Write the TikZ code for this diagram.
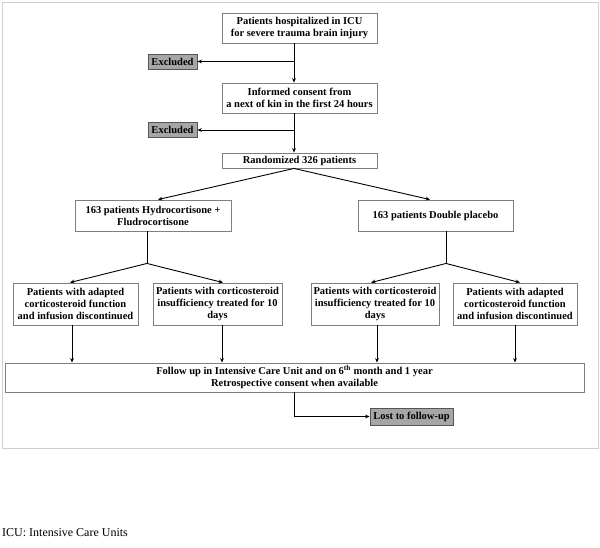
\documentclass[tikz,border=0pt]{standalone}
\usepackage{fontspec}
\setmainfont{Liberation Serif}
\usetikzlibrary{arrows.meta}
\definecolor{boxline}{HTML}{7F7F7F}
\definecolor{exfill}{HTML}{A6A6A6}
\definecolor{exline}{HTML}{555555}
\definecolor{frameline}{HTML}{CFCFCF}
\begin{document}
\begin{tikzpicture}[x=1pt,y=-1pt,
  boxnode/.style={draw=boxline, line width=0.9pt, fill=white, inner sep=0pt, align=center,
    font=\fontsize{10.5}{12}\selectfont\bfseries},
  exnode/.style={boxnode, draw=exline, fill=exfill},
  arr/.style={line width=0.9pt, -{Stealth[length=4.5pt,width=3.8pt]}},
  ln/.style={line width=0.9pt}]
\useasboundingbox (0,0) rectangle (600,547);
\draw[frameline, line width=1pt] (2,2) rectangle (598,448);

\node[boxnode, minimum width=155pt, minimum height=30pt] (b1) at (299.5,28) {Patients hospitalized in ICU\\for severe trauma brain injury};
\node[boxnode, minimum width=155pt, minimum height=30pt] (b2) at (299.5,98) {Informed consent from\\a next of kin in the first 24 hours};
\node[boxnode, minimum width=155pt, minimum height=15pt] (b3) at (299.5,160.5) {Randomized 326 patients};
\node[exnode, minimum width=49pt, minimum height=15pt] (ex1) at (172.5,61.5) {Excluded};
\node[exnode, minimum width=49pt, minimum height=15pt] (ex2) at (172.5,130) {Excluded};

\node[boxnode, minimum width=156pt, minimum height=31pt] (gL) at (153,215.5) {163 patients Hydrocortisone +\\Fludrocortisone};
\node[boxnode, minimum width=155pt, minimum height=31pt] (gR) at (435.5,215.5) {163 patients Double placebo};

\node[boxnode, minimum width=125pt, minimum height=42pt] (A) at (75.5,304) {Patients with adapted\\corticosteroid function\\and infusion discontinued};
\node[boxnode, minimum width=129pt, minimum height=42pt] (B) at (217.5,304) {Patients with corticosteroid\\insufficiency treated for 10\\days};
\node[boxnode, minimum width=128pt, minimum height=42pt] (C) at (375,304) {Patients with corticosteroid\\insufficiency treated for 10\\days};
\node[boxnode, minimum width=124pt, minimum height=42pt] (D) at (515,304) {Patients with adapted\\corticosteroid function\\and infusion discontinued};

\node[boxnode, minimum width=579pt, minimum height=29pt] (F) at (294.5,377.5) {Follow up in Intensive Care Unit and on 6\textsuperscript{th} month and 1 year\\Retrospective consent when available};
\node[exnode, minimum width=83pt, minimum height=17pt] (L) at (411.5,416.5) {Lost to follow-up};

\node[anchor=base west, inner sep=0pt, font=\fontsize{12}{14}\selectfont] (note) at (2,536) {ICU: Intensive Care Units};

% main column
\coordinate (c1) at ([xshift=-5.5pt]b1.south);
\coordinate (c2) at ([xshift=-5.5pt]b2.south);
\draw[arr] (c1) -- ([xshift=-5.5pt]b2.north);
\draw[arr] (c1 |- ex1.east) -- (ex1.east);
\draw[arr] (c2) -- ([xshift=-5.5pt]b3.north);
\draw[arr] (c2 |- ex2.east) -- (ex2.east);

% randomization
\draw[arr] ([xshift=-5.5pt]b3.south) -- ([xshift=5pt]gL.north);
\draw[arr] ([xshift=-5.5pt]b3.south) -- ([xshift=-5.5pt]gR.north);

% left group split
\coordinate (jL) at ([xshift=-6pt,yshift=-32pt]gL.south);
\draw[ln] ([xshift=-6pt]gL.south) -- (jL);
\draw[arr] (jL) -- ([xshift=-5.5pt]A.north);
\draw[arr] (jL) -- ([xshift=5.5pt]B.north);

% right group split
\coordinate (jR) at ([xshift=10.5pt,yshift=-32pt]gR.south);
\draw[ln] ([xshift=10.5pt]gR.south) -- (jR);
\draw[arr] (jR) -- ([xshift=-4pt]C.north);
\draw[arr] (jR) -- ([xshift=5pt]D.north);

% to follow-up
\coordinate (dA) at ([xshift=-3.5pt]A.south);
\coordinate (dB) at ([xshift=4.5pt]B.south);
\coordinate (dC) at ([xshift=2pt]C.south);
\coordinate (dD) at (D.south);
\draw[arr] (dA) -- (dA |- F.north);
\draw[arr] (dB) -- (dB |- F.north);
\draw[arr] (dC) -- (dC |- F.north);
\draw[arr] (dD) -- (dD |- F.north);

% lost to follow-up
\draw[arr] (F.south) |- (L.west);
\end{tikzpicture}
\end{document}
